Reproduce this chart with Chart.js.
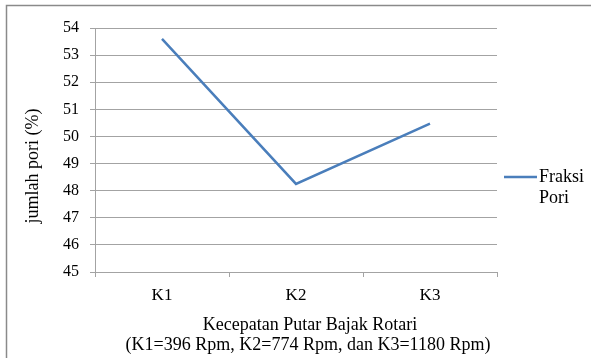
<!DOCTYPE html>
<html>
<head>
<meta charset="utf-8">
<script src="https://cdn.jsdelivr.net/npm/chart.js@4/dist/chart.umd.min.js"></script>
<style>
  html, body { margin: 0; padding: 0; background: #fff; }
  #wrap { position: relative; width: 591px; height: 358px; }
</style>
</head>
<body>
<div id="wrap"><canvas id="c" width="591" height="358"></canvas></div>
<script>
// Pore fraction at three rotary plough speeds
const categories = ['K1', 'K2', 'K3'];
const fraksiPori = [53.6, 48.25, 50.47];
const seriesLabel = 'Fraksi Pori';
const yTitle = 'jumlah pori (%)';
const xTitleLines = ['Kecepatan Putar Bajak Rotari', '(K1=396 Rpm, K2=774 Rpm, dan K3=1180 Rpm)'];
const yMin = 45, yMax = 54, yStep = 1;

const SERIF = '"Liberation Serif", "Times New Roman", serif';
const LINE_COLOR = '#4a7ebb';
const GRID_COLOR = '#a3a3a3';

// Frame, axis titles and the side legend
const decorations = {
  id: 'decorations',
  afterDraw(chart) {
    const ctx = chart.ctx;
    const area = chart.chartArea;
    ctx.save();
    // outer frame (top and left edges)
    ctx.strokeStyle = '#8a8a8a';
    ctx.lineWidth = 1.5;
    ctx.beginPath();
    ctx.moveTo(591, 5.5);
    ctx.lineTo(6.5, 5.5);
    ctx.lineTo(6.5, 358);
    ctx.stroke();

    ctx.fillStyle = '#000';
    // y axis title
    ctx.font = '18px ' + SERIF;
    ctx.textAlign = 'center';
    ctx.textBaseline = 'middle';
    ctx.save();
    ctx.translate(33, 166);
    ctx.rotate(-Math.PI / 2);
    ctx.fillText(yTitle, 0, 0);
    ctx.restore();

    // x axis title
    ctx.font = '18px ' + SERIF;
    ctx.fillText(xTitleLines[0], 310, 325);
    ctx.fillText(xTitleLines[1], 308, 345);

    // legend
    const ds = chart.data.datasets[0];
    const ly = (area.top + area.bottom) / 2 + 27;
    ctx.strokeStyle = ds.borderColor;
    ctx.lineWidth = ds.borderWidth;
    ctx.beginPath();
    ctx.moveTo(504, ly);
    ctx.lineTo(537, ly);
    ctx.stroke();
    ctx.font = '18px ' + SERIF;
    ctx.textAlign = 'left';
    const words = ds.label.split(' ');
    words.forEach((w, i) => ctx.fillText(w, 539, ly + i * 21));
    ctx.restore();
  }
};

new Chart(document.getElementById('c'), {
  type: 'line',
  data: {
    labels: categories,
    datasets: [{
      label: seriesLabel,
      data: fraksiPori,
      borderColor: LINE_COLOR,
      backgroundColor: LINE_COLOR,
      borderWidth: 2.5,
      pointRadius: 0,
      tension: 0,
      fill: false
    }]
  },
  options: {
    responsive: false,
    animation: false,
    events: [],
    layout: { padding: { left: 0, top: 28, right: 94, bottom: 0 } },
    plugins: { legend: { display: false }, tooltip: { enabled: false } },
    scales: {
      x: {
        offset: true,
        grid: { display: true, offset: true, drawOnChartArea: false, drawTicks: true, tickLength: 5, color: GRID_COLOR },
        border: { display: true, color: GRID_COLOR, width: 1 },
        ticks: { color: '#000', font: { family: SERIF, size: 17 }, padding: 8, maxRotation: 0 },
        afterFit(scale) { scale.height = 86; }
      },
      y: {
        min: yMin, max: yMax,
        grid: { color: GRID_COLOR, tickLength: 5, drawTicks: true },
        border: { display: true, color: GRID_COLOR, width: 1 },
        ticks: { stepSize: yStep, color: '#000', font: { family: SERIF, size: 16 }, padding: 11 },
        afterFit(scale) { scale.width = 95; }
      }
    }
  },
  plugins: [decorations]
});
</script>
</body>
</html>
